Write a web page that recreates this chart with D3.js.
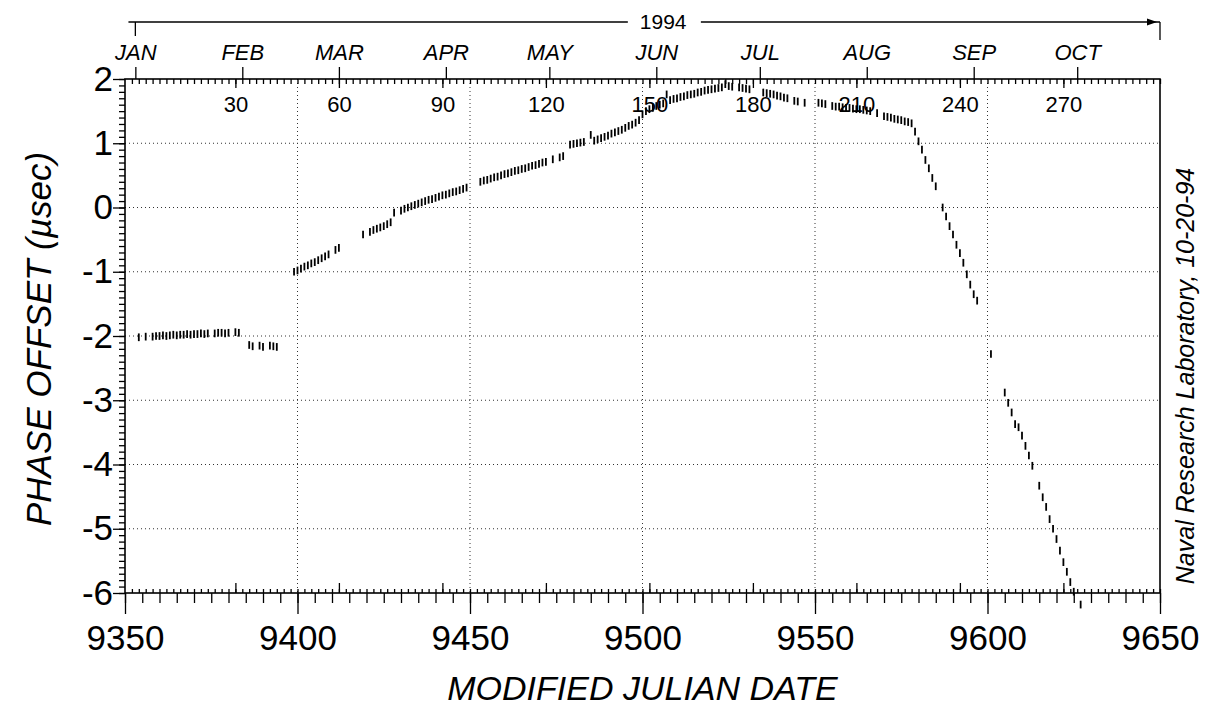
<!DOCTYPE html>
<html>
<head>
<meta charset="utf-8">
<script src="https://cdn.jsdelivr.net/npm/d3@7"></script>
<style>
  body { margin: 0; background: #fff; }
  svg { display: block; font-family: "Liberation Sans", Arial, sans-serif; }
</style>
</head>
<body>
<svg id="chart" width="1205" height="719"></svg>
<script>
// data (MJD - 40000, phase offset in microseconds)
const mjd = [
  9354, 9356, 9358, 9359, 9360, 9361, 9362, 9363, 9364, 9365, 9366, 9367, 9368, 9369, 9370,
  9371, 9372, 9373, 9374, 9376, 9377, 9378, 9379, 9380, 9382, 9383,
  9386, 9387, 9389, 9390, 9392, 9393, 9394,
  9399, 9400, 9401, 9402, 9403, 9404, 9405, 9406, 9407, 9408, 9409, 9411, 9412,
  9419, 9421, 9422, 9423, 9424, 9425, 9426, 9427, 9428, 9430, 9431, 9432, 9433, 9434,
  9435, 9436, 9437, 9438, 9439, 9440, 9441, 9442, 9443, 9444, 9445, 9446, 9447, 9448, 9449,
  9453, 9454, 9455, 9456, 9457, 9458, 9459, 9460, 9461, 9462, 9463, 9464, 9465, 9466, 9467,
  9468, 9469, 9470, 9471, 9472, 9474, 9476, 9477, 9479, 9480, 9481, 9482, 9483, 9485, 9486,
  9487, 9488, 9489, 9490, 9491, 9492, 9493, 9494, 9495, 9496, 9497, 9498, 9499, 9500, 9501,
  9502, 9503, 9504, 9505, 9506, 9507, 9508, 9509, 9510, 9511, 9512, 9513, 9514, 9515, 9516,
  9517, 9518, 9519, 9520, 9521, 9522, 9523, 9524, 9525, 9526, 9528, 9529, 9530, 9531,
  9535, 9536, 9537, 9538, 9539, 9540, 9541, 9542, 9544, 9545, 9547,
  9551, 9552, 9553, 9555, 9556, 9557, 9558, 9559, 9560, 9561, 9562, 9563, 9564, 9565, 9566,
  9568, 9570, 9571, 9572, 9573, 9574, 9575, 9576, 9577, 9578, 9579, 9580, 9581, 9582, 9583,
  9584, 9585, 9587, 9588, 9589, 9590, 9591, 9592, 9593, 9594, 9595, 9596, 9597,
  9601, 9605, 9606, 9607, 9608, 9609, 9610, 9611, 9612, 9613, 9615, 9616, 9617, 9618, 9619,
  9620, 9621, 9622, 9623, 9624, 9625, 9627
];
const phaseOffset = [
  -2.02, -2.01, -2.01, -2.00, -2.00, -1.99, -2.00, -1.99, -1.98, -1.99, -1.98, -1.98, -1.97, -1.98, -1.97,
  -1.97, -1.96, -1.97, -1.96, -1.96, -1.95, -1.95, -1.96, -1.95, -1.94, -1.95,
  -2.14, -2.16, -2.15, -2.17, -2.15, -2.16, -2.17,
  -1.00, -0.98, -0.95, -0.92, -0.90, -0.87, -0.85, -0.82, -0.79, -0.76, -0.73, -0.66, -0.63,
  -0.42, -0.38, -0.35, -0.33, -0.31, -0.29, -0.26, -0.23, -0.08, -0.05, -0.02, 0.00, 0.02, 0.04,
  0.06, 0.08, 0.10, 0.12, 0.13, 0.15, 0.17, 0.19, 0.20, 0.22, 0.24, 0.25, 0.27, 0.29, 0.31,
  0.40, 0.42, 0.43, 0.45, 0.47, 0.48, 0.50, 0.52, 0.53, 0.55, 0.57, 0.58, 0.60, 0.61, 0.63,
  0.65, 0.66, 0.68, 0.70, 0.71, 0.75, 0.78, 0.80, 0.98, 0.99, 1.00, 1.01, 1.02, 1.13, 1.04,
  1.06, 1.08, 1.10, 1.12, 1.15, 1.17, 1.19, 1.21, 1.24, 1.27, 1.29, 1.32, 1.36, 1.45, 1.50,
  1.53, 1.55, 1.58, 1.60, 1.62, 1.76, 1.67, 1.69, 1.70, 1.72, 1.73, 1.75, 1.76, 1.77, 1.79,
  1.80, 1.82, 1.83, 1.84, 1.85, 1.86, 1.87, 1.92, 1.89, 1.88, 1.87, 1.86, 1.85, 1.84,
  1.79, 1.78, 1.77, 1.76, 1.74, 1.73, 1.71, 1.70, 1.66, 1.65, 1.63,
  1.63, 1.62, 1.61, 1.58, 1.57, 1.57, 1.56, 1.55, 1.55, 1.54, 1.53, 1.53, 1.52, 1.51, 1.50,
  1.47, 1.42, 1.41, 1.40, 1.38, 1.37, 1.36, 1.34, 1.33, 1.31, 1.18, 1.03, 0.90, 0.74, 0.61,
  0.46, 0.33, 0.00, -0.14, -0.29, -0.42, -0.58, -0.71, -0.86, -1.04, -1.20, -1.35, -1.45,
  -2.28, -2.88, -3.04, -3.19, -3.37, -3.42, -3.55, -3.71, -3.86, -4.02, -4.33, -4.51, -4.66, -4.85, -5.00,
  -5.16, -5.34, -5.52, -5.67, -5.83, -5.98, -6.18
];

const xTicks = [9350, 9400, 9450, 9500, 9550, 9600, 9650];
const yTicks = [-6, -5, -4, -3, -2, -1, 0, 1, 2];
const dayOfYearTicks = [30, 60, 90, 120, 150, 180, 210, 240, 270];
const monthNames = ["JAN", "FEB", "MAR", "APR", "MAY", "JUN", "JUL", "AUG", "SEP", "OCT"];
const monthStartMJD = [9353, 9384, 9412, 9443, 9473, 9504, 9534, 9565, 9596, 9626];
const yearLabel = "1994";
const yearDayZeroMJD = 9352; // day 0 of 1994

const width = 1205, height = 719;
const margin = { top: 79, right: 45, bottom: 126, left: 125 };
const dashHalf = 0.06; // half height of each data dash (usec)

const x = d3.scaleLinear().domain([9350, 9650]).range([margin.left, width - margin.right]);
const y = d3.scaleLinear().domain([-6, 2]).range([height - margin.bottom, margin.top]);
// day-of-year scale sharing the same pixels
const xDoy = d3.scaleLinear()
  .domain([9350 - yearDayZeroMJD, 9650 - yearDayZeroMJD])
  .range(x.range());

const svg = d3.select("#chart");
const x0 = x.range()[0], x1 = x.range()[1];
const yTop = y(2), yBot = y(-6);

// helper: style an axis group (no domain, black ticks)
const clean = (g, size) => {
  g.select(".domain").remove();
  g.attr("font-family", null).attr("font-size", size || null);
  g.selectAll("line").attr("stroke", "#000").attr("stroke-width", 1.3);
  g.selectAll("text").attr("fill", "#000");
};

// dotted grid
svg.append("g").selectAll("line")
  .data(xTicks.slice(1, -1)).join("line")
  .attr("x1", d => x(d)).attr("x2", d => x(d))
  .attr("y1", yTop).attr("y2", yBot)
  .attr("stroke", "#333").attr("stroke-width", 1).attr("stroke-dasharray", "1,3");
svg.append("g").selectAll("line")
  .data(yTicks.slice(1, -1)).join("line")
  .attr("x1", x0).attr("x2", x1)
  .attr("y1", d => y(d)).attr("y2", d => y(d))
  .attr("stroke", "#333").attr("stroke-width", 1).attr("stroke-dasharray", "1,3");

// ---- bottom axis ----
svg.append("g").attr("transform", `translate(0,${yBot})`)
  .call(d3.axisBottom(x).tickValues(d3.range(9350, 9651, 5)).tickSize(10).tickFormat(""))
  .call(g => clean(g));
svg.append("g").attr("transform", `translate(0,${yBot})`)
  .call(d3.axisBottom(x).tickValues(xTicks).tickSize(21).tickPadding(11).tickFormat(d => String(d)))
  .call(g => clean(g, 35));
// inside ticks on the bottom edge (day of year)
svg.append("g").attr("transform", `translate(0,${yBot})`)
  .call(d3.axisTop(xDoy).tickValues(d3.range(0, 299, 2)).tickSize(4).tickFormat(""))
  .call(g => clean(g));
svg.append("g").attr("transform", `translate(0,${yBot})`)
  .call(d3.axisTop(xDoy).tickValues(dayOfYearTicks).tickSize(10).tickFormat(""))
  .call(g => clean(g));

// ---- top axis ----
svg.append("g").attr("transform", `translate(0,${yTop})`)
  .call(d3.axisBottom(xDoy).tickValues(d3.range(0, 299, 2)).tickSize(5).tickFormat(""))
  .call(g => clean(g));
svg.append("g").attr("transform", `translate(0,${yTop})`)
  .call(d3.axisBottom(xDoy).tickValues(dayOfYearTicks).tickSize(9).tickPadding(8).tickFormat(d => String(d)))
  .call(g => clean(g, 22));
svg.append("g").attr("transform", `translate(0,${yTop})`)
  .call(d3.axisTop(x).tickValues(monthStartMJD).tickSize(12).tickPadding(7)
    .tickFormat((d, i) => monthNames[i]))
  .call(g => clean(g, 22))
  .call(g => g.selectAll("text").attr("font-style", "italic"));

// ---- left axis ----
svg.append("g").attr("transform", `translate(${x0},0)`)
  .call(d3.axisLeft(y).tickValues(d3.range(-60, 21).map(d => d / 10)).tickSize(6).tickFormat(""))
  .call(g => clean(g));
svg.append("g").attr("transform", `translate(${x0},0)`)
  .call(d3.axisLeft(y).tickValues(yTicks).tickSize(12).tickPadding(0).tickFormat(d => String(d)))
  .call(g => clean(g, 35));

// frame
svg.append("rect")
  .attr("x", x0).attr("y", yTop).attr("width", x1 - x0).attr("height", yBot - yTop)
  .attr("fill", "none").attr("stroke", "#000").attr("stroke-width", 1.6);

// ---- data dashes ----
svg.append("g").selectAll("line")
  .data(mjd.map((d, i) => [d, phaseOffset[i]])).join("line")
  .attr("x1", d => x(d[0])).attr("x2", d => x(d[0]))
  .attr("y1", d => y(d[1] + dashHalf)).attr("y2", d => y(d[1] - dashHalf))
  .attr("stroke", "#000").attr("stroke-width", 1.8);

// ---- year banner ----
const bannerY = 22;
const yearText = svg.append("text")
  .attr("x", x(9506)).attr("y", bannerY + 7)
  .attr("text-anchor", "middle").attr("font-size", 21)
  .text(yearLabel);
const bb = yearText.node().getBBox();
const banner = svg.append("g").attr("stroke", "#000").attr("stroke-width", 1.3).attr("fill", "none");
banner.append("line").attr("x1", x(9351)).attr("x2", bb.x - 12).attr("y1", bannerY).attr("y2", bannerY);
banner.append("line").attr("x1", bb.x + bb.width + 14).attr("x2", x(9650)).attr("y1", bannerY).attr("y2", bannerY);
banner.append("line").attr("x1", x(monthStartMJD[0])).attr("x2", x(monthStartMJD[0]))
  .attr("y1", bannerY).attr("y2", bannerY + 14);
banner.append("line").attr("x1", x(9650)).attr("x2", x(9650))
  .attr("y1", bannerY).attr("y2", bannerY + 18);
svg.append("path")
  .attr("d", `M${x(9650) - 3},${bannerY} l-10,-3.5 l0,7 Z`)
  .attr("fill", "#000");

// ---- titles ----
svg.append("text")
  .attr("x", (x0 + x1) / 2).attr("y", 700)
  .attr("text-anchor", "middle").attr("font-size", 34).attr("font-style", "italic")
  .text("MODIFIED JULIAN DATE");

svg.append("text")
  .attr("transform", `translate(51,${(yTop + yBot) / 2 + 3}) rotate(-90)`)
  .attr("text-anchor", "middle").attr("font-size", 35).attr("font-style", "italic")
  .text("PHASE OFFSET (\u00b5sec)");

svg.append("text")
  .attr("transform", `translate(1194,${(yTop + yBot) / 2 + 40}) rotate(-90)`)
  .attr("text-anchor", "middle").attr("font-size", 25).attr("font-style", "italic")
  .text("Naval Research Laboratory, 10-20-94");
</script>
</body>
</html>
